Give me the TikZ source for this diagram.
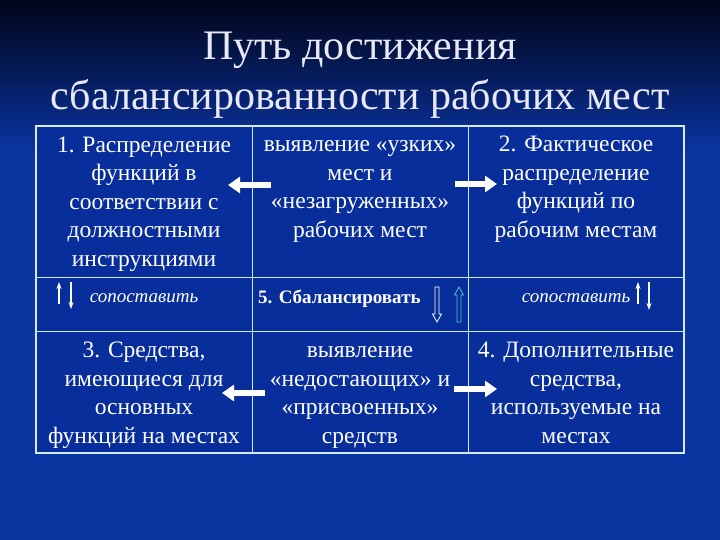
\documentclass[tikz,border=0pt]{standalone}
\usepackage{fontspec}
\setmainfont{Liberation Serif}
\usetikzlibrary{arrows.meta}
\definecolor{bgblue}{RGB}{10,52,160}
\definecolor{bgdark}{RGB}{2,5,24}
\definecolor{cellblue}{RGB}{8,46,156}
\definecolor{gridline}{RGB}{215,235,255}
\definecolor{titlecol}{RGB}{232,232,248}
\definecolor{tealarrow}{RGB}{70,200,200}

\begin{document}
\begin{tikzpicture}[x=1pt, y=-1pt,
  cell/.style={align=center, text=white, inner sep=0pt, anchor=base, font=\fontsize{23.5}{28.5}\selectfont},
  fatarrow/.style={line width=6pt, white, -{Triangle[length=12pt,width=16pt]}},
  thinarrow/.style={line width=1.2pt, white, -{Stealth[length=7pt,width=5pt]}}]
  \useasboundingbox (0,0) rectangle (720,540);
  \fill[bgblue] (0,0) rectangle (720,540);
  \shade[top color=bgdark, bottom color=bgblue] (0,0) rectangle (720,150);

  % table
  \fill[cellblue] (36,126) rectangle (684,453);
  \draw[gridline, line width=0.8pt] (252,126) -- (252,453);
  \draw[gridline, line width=0.8pt] (468,126) -- (468,453);
  \draw[gridline, line width=0.8pt] (36,277) -- (684,277);
  \draw[gridline, line width=0.8pt] (36,331) -- (684,331);
  \draw[gridline, line width=2pt] (36,126) rectangle (684,453);

  \node[align=center, text=titlecol, font=\fontsize{42}{50}\selectfont] (title) at (360,75)
    {Путь достижения\\сбалансированности рабочих мест};

  % last line baselines
  \node[cell] (c11) at (144,266) {1. Распределение\\функций в\\соответствии с\\должностными\\инструкциями};
  \node[cell] (c12) at (360,237) {выявление «узких»\\мест и\\«незагруженных»\\рабочих мест};
  \node[cell] (c13) at (576,237) {2. Фактическое\\распределение\\функций по\\рабочим местам};

  \node[cell, font=\fontsize{19}{24}\selectfont\itshape] (s1) at (144,302) {сопоставить};
  \node[cell, anchor=base west, font=\fontsize{19}{24}\selectfont\bfseries] (bal) at (258,303) {5. Сбалансировать};
  \node[cell, font=\fontsize{19}{24}\selectfont\itshape] (s3) at (576,302) {сопоставить};

  \node[cell] (c31) at (144,443) {3. Средства,\\имеющиеся для\\основных\\функций на местах};
  \node[cell] (c32) at (360,443) {выявление\\«недостающих» и\\«присвоенных»\\средств};
  \node[cell] (c33) at (576,443) {4. Дополнительные\\средства,\\используемые на\\местах};

  % arrows
  \coordinate (l1s) at (271,185); \coordinate (l1e) at (228,185);
  \coordinate (r1s) at (455,184); \coordinate (r1e) at (497,184);
  \coordinate (l3s) at (265,393); \coordinate (l3e) at (222,393);
  \coordinate (r3s) at (454,389); \coordinate (r3e) at (497,389);
  \draw[fatarrow] (l1s) -- (l1e);
  \draw[fatarrow] (r1s) -- (r1e);
  \draw[fatarrow] (l3s) -- (l3e);
  \draw[fatarrow] (r3s) -- (r3e);

  \coordinate (u1s) at (59,304); \coordinate (u1e) at (59,282);
  \coordinate (d1s) at (71,282); \coordinate (d1e) at (71,309);
  \coordinate (u3s) at (638,304); \coordinate (u3e) at (638,282);
  \coordinate (d3s) at (649,282); \coordinate (d3e) at (649,310);
  \draw[thinarrow] (u1s) -- (u1e);
  \draw[thinarrow] (d1s) -- (d1e);
  \draw[thinarrow] (u3s) -- (u3e);
  \draw[thinarrow] (d3s) -- (d3e);

  \draw[white, line width=0.8pt] (435,287) -- (439,287) -- (439,314) -- (441.5,314) -- (437,322)
    -- (432.5,314) -- (435,314) -- cycle;
  \draw[tealarrow, line width=0.8pt] (457,322) -- (461,322) -- (461,295) -- (463.5,295) -- (459,287)
    -- (454.5,295) -- (457,295) -- cycle;
\end{tikzpicture}
\end{document}
